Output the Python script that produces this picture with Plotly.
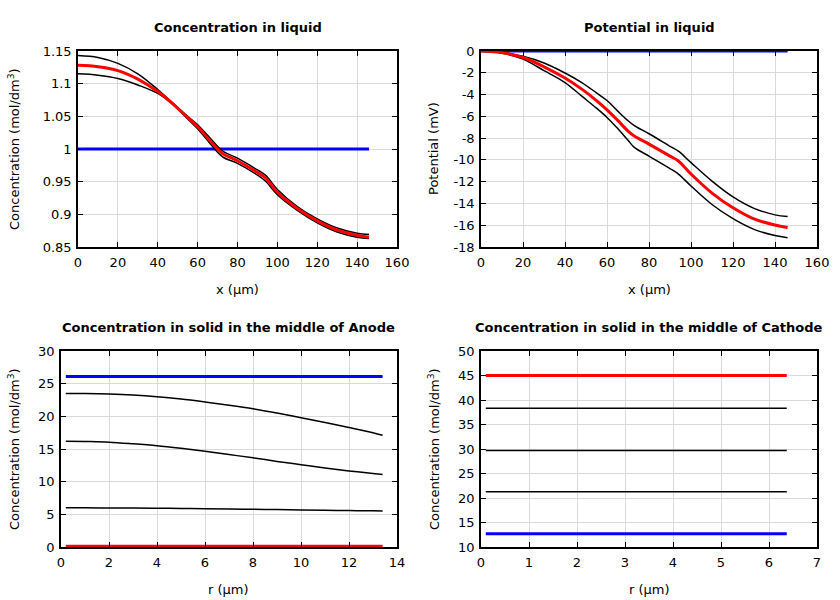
import plotly.graph_objects as go

# ---------------- data ----------------
x_liq = [0, 10, 20, 30, 40, 48, 55, 60, 65, 70, 73, 80, 90, 94, 100, 110, 120, 130, 140, 146]

conc_init = [1.0] * len(x_liq)
conc_t1 = [1.143, 1.140, 1.131, 1.115, 1.091, 1.069, 1.050, 1.037, 1.021, 1.004, 0.996, 0.986, 0.968, 0.960,
           0.938, 0.912, 0.893, 0.879, 0.871, 0.869]
conc_t2 = [1.115, 1.113, 1.108, 1.098, 1.085, 1.067, 1.046, 1.031, 1.013, 0.995, 0.987, 0.978, 0.960, 0.951,
           0.930, 0.906, 0.887, 0.873, 0.865, 0.863]
conc_final = [1.128, 1.126, 1.120, 1.107, 1.088, 1.068, 1.048, 1.034, 1.017, 1.000, 0.992, 0.982, 0.964, 0.956,
              0.934, 0.909, 0.890, 0.876, 0.868, 0.865]

pot_init = [0.0] * len(x_liq)
pot_t1 = [0, -0.12, -0.49, -1.1, -2.02, -2.9, -3.85, -4.55, -5.5, -6.4, -6.85, -7.6, -8.75, -9.2,
          -10.25, -11.95, -13.4, -14.45, -15.05, -15.21]
pot_t2 = [0, -0.2, -0.75, -1.8, -2.9, -4.15, -5.25, -6.1, -7.1, -8.2, -8.85, -9.65, -10.8, -11.3,
          -12.4, -14.1, -15.4, -16.38, -16.95, -17.14]
pot_final = [0, -0.15, -0.6, -1.45, -2.48, -3.5, -4.55, -5.4, -6.35, -7.35, -7.8, -8.55, -9.65, -10.1,
             -11.3, -13.05, -14.4, -15.42, -15.98, -16.2]

r_an = [0.2, 1, 2, 3, 4, 5, 6, 7, 8, 9, 10, 11, 12, 13, 13.4]
an_init = [26.1, 26.1, 26.1, 26.1, 26.1, 26.1, 26.1, 26.1, 26.1, 26.1, 26.1, 26.1, 26.1, 26.1, 26.1]
an_t1 = [23.5, 23.48, 23.4, 23.25, 23.0, 22.65, 22.2, 21.7, 21.15, 20.5, 19.8, 19.05, 18.3, 17.5, 17.1]
an_t2 = [16.2, 16.15, 16.05, 15.8, 15.5, 15.1, 14.65, 14.15, 13.65, 13.1, 12.6, 12.1, 11.65, 11.25, 11.1]
an_t3 = [6.0, 5.99, 5.98, 5.96, 5.93, 5.9, 5.87, 5.83, 5.78, 5.73, 5.68, 5.63, 5.58, 5.53, 5.5]
an_final = [0.1, 0.1, 0.1, 0.1, 0.1, 0.1, 0.1, 0.1, 0.1, 0.1, 0.1, 0.1, 0.1, 0.1, 0.1]

r_ca = [0.1, 1, 2, 3, 4, 5, 6, 6.37]
ca_init = [12.7, 12.7, 12.7, 12.7, 12.7, 12.7, 12.7, 12.7]
ca_t1 = [38.3, 38.3, 38.3, 38.3, 38.3, 38.3, 38.3, 38.3]
ca_t2 = [29.7, 29.7, 29.7, 29.7, 29.7, 29.7, 29.7, 29.7]
ca_t3 = [21.3, 21.3, 21.3, 21.3, 21.3, 21.3, 21.3, 21.3]
ca_final = [45.0, 45.0, 45.0, 45.0, 45.0, 45.0, 45.0, 45.0]

titles = ["Concentration in liquid", "Potential in liquid",
          "Concentration in solid in the middle of Anode",
          "Concentration in solid in the middle of Cathode"]
xtitles = ["x (µm)", "x (µm)", "r (µm)", "r (µm)"]
ytitles = ["Concentration (mol/dm<sup>3</sup>)", "Potential (mV)",
           "Concentration (mol/dm<sup>3</sup>)", "Concentration (mol/dm<sup>3</sup>)"]

ticks_tl_x = [0, 20, 40, 60, 80, 100, 120, 140, 160]
ticks_tl_y = [0.85, 0.9, 0.95, 1.0, 1.05, 1.1, 1.15]
labels_tl_y = ["0.85", "0.9", "0.95", "1", "1.05", "1.1", "1.15"]
ticks_tr_y = [0, -2, -4, -6, -8, -10, -12, -14, -16, -18]
labels_tr_y = ["0", "-2", "-4", "-6", "-8", "-10", "-12", "-14", "-16", "-18"]
ticks_bl_x = [0, 2, 4, 6, 8, 10, 12, 14]
ticks_bl_y = [0, 5, 10, 15, 20, 25, 30]
ticks_br_x = [0, 1, 2, 3, 4, 5, 6, 7]
ticks_br_y = [10, 15, 20, 25, 30, 35, 40, 45, 50]

BLUE = "#0000ff"
RED = "#ff0000"
BLACK = "#000000"
FONT = "DejaVu Sans"

W, H = 840, 600
# panel pixel boxes: left, right, top, bottom
boxes = [(78, 397, 51, 247), (481, 817, 51, 247), (61, 397, 351, 547), (481, 817, 351, 547)]

fig = go.Figure()


def add(xv, yv, color, width, ax):
    fig.add_trace(go.Scatter(x=xv, y=yv, mode="lines", xaxis="x" + ax, yaxis="y" + ax,
                             line=dict(color=color, width=width, shape="spline", smoothing=1.0),
                             showlegend=False, hoverinfo="skip"))


add(x_liq, conc_init, BLUE, 3, "")
add(x_liq, conc_t1, BLACK, 1.5, "")
add(x_liq, conc_t2, BLACK, 1.5, "")
add(x_liq, conc_final, RED, 3, "")

add(x_liq, pot_init, BLUE, 3, "2")
add(x_liq, pot_t1, BLACK, 1.5, "2")
add(x_liq, pot_t2, BLACK, 1.5, "2")
add(x_liq, pot_final, RED, 3, "2")

add(r_an, an_init, BLUE, 3, "3")
add(r_an, an_t1, BLACK, 1.5, "3")
add(r_an, an_t2, BLACK, 1.5, "3")
add(r_an, an_t3, BLACK, 1.5, "3")
add(r_an, an_final, RED, 3, "3")

add(r_ca, ca_init, BLUE, 3, "4")
add(r_ca, ca_t1, BLACK, 1.5, "4")
add(r_ca, ca_t2, BLACK, 1.5, "4")
add(r_ca, ca_t3, BLACK, 1.5, "4")
add(r_ca, ca_final, RED, 3, "4")

common = dict(showline=True, linecolor=BLACK, linewidth=1.5, mirror="ticks", ticks="inside",
              ticklen=5, tickwidth=1, tickcolor=BLACK, showgrid=True, gridcolor="#d9d9d9",
              gridwidth=1, zeroline=False, tickfont=dict(family=FONT, size=13, color=BLACK),
              tickmode="array", automargin=False)

axcfg = [
    (dict(range=[0, 160], tickvals=ticks_tl_x), dict(range=[0.85, 1.15], tickvals=ticks_tl_y, ticktext=labels_tl_y)),
    (dict(range=[0, 160], tickvals=ticks_tl_x), dict(range=[-18, 0], tickvals=ticks_tr_y, ticktext=labels_tr_y)),
    (dict(range=[0, 14], tickvals=ticks_bl_x), dict(range=[0, 30], tickvals=ticks_bl_y)),
    (dict(range=[0, 7], tickvals=ticks_br_x), dict(range=[10, 50], tickvals=ticks_br_y)),
]

annotations = []
for i, ((l, r, t, b), (xc, yc)) in enumerate(zip(boxes, axcfg)):
    suffix = "" if i == 0 else str(i + 1)
    xd = [l / W, r / W]
    yd = [1 - b / H, 1 - t / H]
    fig.update_layout(**{
        "xaxis" + suffix: dict(domain=xd, anchor="y" + suffix, ticklabelstandoff=3, **xc, **common),
        "yaxis" + suffix: dict(domain=yd, anchor="x" + suffix, ticklabelstandoff=2, **yc, **common),
    })
    cx = (l + r) / 2 / W
    annotations.append(dict(text="<b>" + titles[i] + "</b>", x=cx, y=1 - (t - 24) / H, xref="paper", yref="paper",
                            showarrow=False, xanchor="center", yanchor="middle",
                            font=dict(family=FONT, size=13, color=BLACK)))
    annotations.append(dict(text=xtitles[i], x=cx, y=1 - (b + 42) / H, xref="paper", yref="paper",
                            showarrow=False, xanchor="center", yanchor="middle",
                            font=dict(family=FONT, size=13, color=BLACK)))
    yx = 14 if i in (0, 2) else 434
    annotations.append(dict(text=ytitles[i], x=yx / W, y=1 - (t + b) / 2 / H, xref="paper", yref="paper",
                            showarrow=False, xanchor="center", yanchor="middle", textangle=-90,
                            font=dict(family=FONT, size=13, color=BLACK)))

fig.update_layout(width=W, height=H, margin=dict(l=0, r=0, t=0, b=0, pad=0, autoexpand=False),
                  paper_bgcolor="white", plot_bgcolor="white", showlegend=False,
                  annotations=annotations, hovermode=False)

fig.write_html("out.html")
